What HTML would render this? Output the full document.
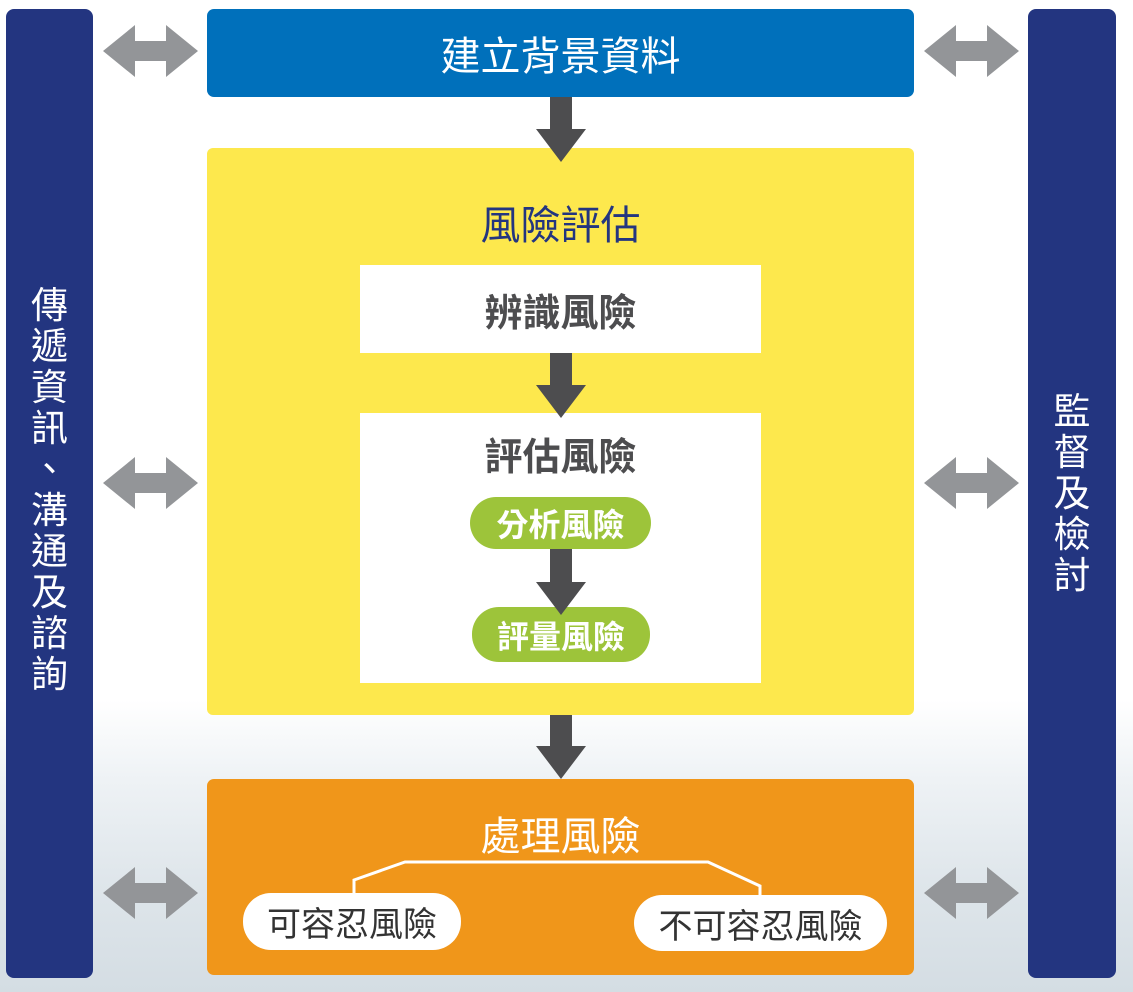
<!DOCTYPE html>
<html><head><meta charset="utf-8"><style>
body{margin:0;width:1133px;height:992px;position:relative;overflow:hidden;font-family:"Liberation Sans","Noto Sans CJK TC",sans-serif;
background:linear-gradient(to bottom,#fff 0,#fff 700px,#eef2f5 780px,#dfe6eb 880px,#d4dde3 992px);}
.a{position:absolute;box-sizing:border-box}
.side{background:#233580;border-radius:8px;color:#fff;font-size:37px;text-align:center}
.side div{height:41px;line-height:41px}
.c{display:flex;align-items:center;justify-content:center}
</style></head><body>
<div class="a side" style="left:6px;top:9px;width:87px;height:969px;padding-top:276px"><div>傳</div><div>遞</div><div>資</div><div>訊</div><div>、</div><div>溝</div><div>通</div><div>及</div><div>諮</div><div>詢</div></div>
<div class="a side" style="left:1028px;top:9px;width:88px;height:969px;padding-top:382px"><div>監</div><div>督</div><div>及</div><div>檢</div><div>討</div></div>

<div class="a c" style="left:207px;top:9px;width:707px;height:88px;background:#0070bb;border-radius:7px;color:#fff;font-size:40px">建立背景資料</div>

<div class="a" style="left:207px;top:148px;width:707px;height:567px;background:#fde84d;border-radius:6px"></div>
<div class="a c" style="left:207px;top:192px;width:707px;height:60px;color:#233580;font-size:40px">風險評估</div>
<div class="a c" style="left:360px;top:265px;width:401px;height:88px;background:#fff;color:#4d4d4f;font-size:38px;font-weight:bold">辨識風險</div>
<div class="a" style="left:360px;top:413px;width:401px;height:270px;background:#fff"></div>
<div class="a c" style="left:360px;top:425px;width:401px;height:56px;color:#4d4d4f;font-size:38px;font-weight:bold">評估風險</div>
<div class="a c" style="left:470px;top:497px;width:181px;height:52px;background:#9dc43a;border-radius:26px;color:#fff;font-size:32px;font-weight:bold">分析風險</div>
<div class="a c" style="left:472px;top:607px;width:178px;height:55px;background:#9dc43a;border-radius:27px;color:#fff;font-size:32px;font-weight:bold">評量風險</div>

<div class="a" style="left:207px;top:779px;width:707px;height:196px;background:#f0961a;border-radius:7px"></div>
<div class="a c" style="left:207px;top:805px;width:707px;height:56px;color:#fff;font-size:40px">處理風險</div>
<div class="a c" style="left:243px;top:893px;width:218px;height:57px;background:#fff;border-radius:28px;color:#333;font-size:34px">可容忍風險</div>
<div class="a c" style="left:634px;top:895px;width:253px;height:56px;background:#fff;border-radius:28px;color:#333;font-size:34px">不可容忍風險</div>

<svg class="a" style="left:0;top:0" width="1133" height="992">
<polyline points="354,893 354,880 405,862 708,862 760,886 760,895" fill="none" stroke="#fff" stroke-width="3"/>
<g fill="#4d4d4f">
<polygon points="550,97 572,97 572,129 586,129 561,162 536,129 550,129"/>
<polygon points="550,353 572,353 572,385 586,385 561,418 536,385 550,385"/>
<polygon points="550,549 572,549 572,582 586,582 561,615 536,582 550,582"/>
<polygon points="550,715 572,715 572,746 586,746 561,779 536,746 550,746"/>
</g>
<g fill="#939598">
<polygon id="d" points="103,51 135,25 135,41 166,41 166,25 198,51 166,77 166,61 135,61 135,77"/>
<use href="#d" transform="translate(0,432)"/>
<use href="#d" transform="translate(0,842)"/>
<use href="#d" transform="translate(821,0)"/>
<use href="#d" transform="translate(821,432)"/>
<use href="#d" transform="translate(821,842)"/>
</g>
</svg>
</body></html>
